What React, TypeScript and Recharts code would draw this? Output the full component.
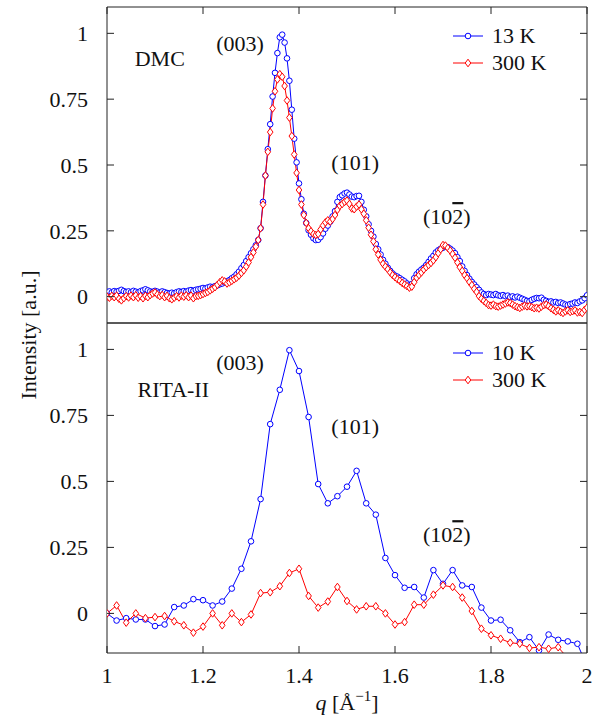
import React from 'react';
import { LineChart, Line, XAxis, YAxis, ReferenceDot, Legend } from 'recharts';

const FONT = '"Liberation Serif", "Times New Roman", serif';
const INK = '#111';
const AXIS = '#222';
const BLUE = '#0000ff';
const RED = '#ff0000';

const qTicks = [1, 1.2, 1.4, 1.6, 1.8, 2];
const yTicks = [0, 0.25, 0.5, 0.75, 1];

// DMC scan, q grid 1.000 .. 2.000 in 0.005 steps
const dmcQ = Array.from({ length: 201 }, (_, i) => Math.round((1 + i * 0.005) * 1000) / 1000);

const dmc13K = [
  0.018, 0.020, 0.016, 0.021, 0.019, 0.022, 0.026, 0.021, 0.018, 0.020,
  0.017, 0.022, 0.019, 0.016, 0.021, 0.024, 0.028, 0.024, 0.020, 0.018,
  0.022, 0.019, 0.016, 0.020, 0.017, 0.014, 0.012, 0.015, 0.013, 0.017,
  0.020, 0.018, 0.021, 0.019, 0.023, 0.025, 0.022, 0.026, 0.028, 0.030,
  0.033, 0.031, 0.035, 0.038, 0.036, 0.040, 0.043, 0.047, 0.050, 0.054,
  0.058, 0.063, 0.070, 0.076, 0.085, 0.095, 0.108, 0.120, 0.135, 0.150,
  0.165, 0.180, 0.195, 0.215, 0.26, 0.36, 0.46, 0.56, 0.655, 0.76,
  0.85, 0.925, 0.985, 0.995, 0.965, 0.905, 0.82, 0.71, 0.60, 0.51,
  0.43, 0.37, 0.315, 0.28, 0.252, 0.235, 0.222, 0.215, 0.216, 0.226,
  0.24, 0.258, 0.270, 0.285, 0.305, 0.325, 0.36, 0.378, 0.385, 0.392,
  0.395, 0.388, 0.38, 0.378, 0.382, 0.383, 0.36, 0.33, 0.305, 0.275,
  0.25, 0.228, 0.2, 0.18, 0.16, 0.14, 0.125, 0.11, 0.098, 0.088,
  0.08, 0.076, 0.07, 0.064, 0.058, 0.05, 0.043, 0.048, 0.07, 0.085,
  0.095, 0.103, 0.11, 0.12, 0.132, 0.145, 0.155, 0.168, 0.176, 0.182,
  0.186, 0.19, 0.188, 0.182, 0.175, 0.165, 0.15, 0.135, 0.115, 0.098,
  0.082, 0.068, 0.056, 0.046, 0.036, 0.026, 0.016, 0.01, 0.006, 0.01,
  0.008, 0.006, 0.01, 0.005, 0.003, 0.006, 0.002, 0.004, -0.002, 0.001,
  -0.003, 0.0, -0.004, -0.008, -0.012, -0.016, -0.018, -0.012, -0.008, -0.005,
  -0.006, -0.004, -0.012, -0.016, -0.02, -0.018, -0.022, -0.02, -0.024, -0.022,
  -0.026, -0.03, -0.032, -0.028, -0.026, -0.022, -0.024, -0.018, -0.014, -0.006,
  0.005,
];

const dmc300K = [
  0.000, -0.004, 0.003, -0.002, 0.004, -0.008, -0.014, -0.006, 0.002, -0.003,
  0.004, -0.002, 0.005, -0.004, 0.002, -0.006, 0.003, -0.002, 0.006, 0.012,
  0.016, 0.008, 0.002, 0.006, -0.002, 0.003, -0.006, -0.01, -0.004, 0.002,
  -0.003, 0.004, 0.0, 0.005, -0.002, 0.004, -0.006, 0.002, 0.003, 0.006,
  0.01, 0.014, 0.018, 0.024, 0.03, 0.036, 0.045, 0.055, 0.062, 0.058,
  0.05, 0.054, 0.06, 0.066, 0.072, 0.08, 0.09, 0.1, 0.114, 0.13,
  0.15, 0.168, 0.19, 0.215, 0.26, 0.35, 0.46, 0.55, 0.625, 0.715,
  0.78, 0.825, 0.845, 0.835, 0.80, 0.745, 0.68, 0.61, 0.54, 0.47,
  0.405, 0.35, 0.31, 0.28, 0.26, 0.248, 0.238, 0.234, 0.238, 0.255,
  0.27, 0.282, 0.29, 0.285, 0.295, 0.31, 0.33, 0.345, 0.352, 0.36,
  0.365, 0.352, 0.335, 0.332, 0.342, 0.35, 0.332, 0.315, 0.29, 0.262,
  0.235, 0.21, 0.18, 0.16, 0.14, 0.125, 0.114, 0.104, 0.092, 0.082,
  0.074, 0.066, 0.06, 0.052, 0.046, 0.04, 0.034, 0.038, 0.055, 0.072,
  0.082, 0.092, 0.103, 0.112, 0.12, 0.128, 0.138, 0.15, 0.165, 0.18,
  0.196, 0.194, 0.185, 0.175, 0.162, 0.148, 0.13, 0.112, 0.098, 0.082,
  0.07, 0.056, 0.044, 0.03, 0.018, 0.002, -0.008, -0.016, -0.024, -0.032,
  -0.034, -0.03, -0.036, -0.038, -0.034, -0.03, -0.026, -0.022, -0.024, -0.03,
  -0.036, -0.04, -0.043, -0.038, -0.034, -0.037, -0.036, -0.04, -0.044, -0.042,
  -0.045, -0.038, -0.032, -0.03, -0.036, -0.044, -0.05, -0.056, -0.052, -0.058,
  -0.062, -0.056, -0.052, -0.058, -0.055, -0.052, -0.06, -0.058, -0.062, -0.05,
  -0.042,
];

// RITA-II scan, 0.02 steps
const ritaQ = [
  1.0, 1.02, 1.04, 1.06, 1.08, 1.1, 1.12, 1.14, 1.16, 1.18,
  1.2, 1.22, 1.24, 1.26, 1.28, 1.3, 1.32, 1.34, 1.36, 1.38,
  1.4, 1.42, 1.44, 1.46, 1.48, 1.5, 1.52, 1.54, 1.56, 1.58,
  1.6, 1.62, 1.64, 1.66, 1.68, 1.7, 1.72, 1.74, 1.76, 1.78,
  1.8, 1.82, 1.84, 1.86, 1.88, 1.9, 1.92, 1.94, 1.96, 1.98,
  2.0,
];

const rita10K = [
  0.0, -0.027, -0.018, -0.023, -0.023, -0.048, -0.042, 0.024, 0.03, 0.054,
  0.05, 0.03, 0.045, 0.094, 0.169, 0.273, 0.433, 0.717, 0.847, 0.997,
  0.918, 0.744, 0.49, 0.417, 0.444, 0.48, 0.54, 0.417, 0.374, 0.21,
  0.145, 0.097, 0.1, 0.06, 0.164, 0.112, 0.164, 0.106, 0.1, 0.022,
  -0.027, -0.024, -0.064, -0.109, -0.09, -0.14, -0.08, -0.1, -0.106, -0.115,
  -0.2,
];

const rita300K = [
  0.0, 0.03, -0.035, 0.0, -0.018, -0.014, -0.01, -0.03, -0.045, -0.073,
  -0.05, 0.0, -0.045, 0.0, -0.033, -0.004, 0.077, 0.08, 0.103, 0.153,
  0.169, 0.066, 0.022, 0.045, 0.1, 0.047, 0.015, 0.027, 0.027, 0.0,
  -0.042, -0.033, 0.033, 0.033, 0.071, 0.106, 0.1, 0.06, 0.009, -0.058,
  -0.083, -0.096, -0.111, -0.115, -0.131, -0.128, -0.134, -0.128, -0.17, -0.2,
  -0.22,
];

const dmcData = dmcQ.map((q, i) => ({ q, low: dmc13K[i], high: dmc300K[i] }));
const ritaData = ritaQ.map((q, i) => ({ q, low: rita10K[i], high: rita300K[i] }));

const Circle = (p: any) => {
  if (p.cx == null || p.cy == null) return <g key={`c-${p.index}`} />;
  return <circle key={`c-${p.index}`} cx={p.cx} cy={p.cy} r={2.8} fill="#fff" stroke={BLUE} strokeWidth={1} />;
};

const diamondPts = (cx: number, cy: number) =>
  `${cx},${cy - 3.8} ${cx + 2.8},${cy} ${cx},${cy + 3.8} ${cx - 2.8},${cy}`;

const Diamond = (p: any) => {
  if (p.cx == null || p.cy == null) return <g key={`d-${p.index}`} />;
  return <polygon key={`d-${p.index}`} points={diamondPts(p.cx, p.cy)} fill="#fff" stroke={RED} strokeWidth={1} />;
};

const QTick = (p: any) => (
  <g>
    <line x1={p.x} x2={p.x} y1={p.y} y2={p.y - 7} stroke={AXIS} />
    <text x={p.x} y={p.y + 30} textAnchor="middle" fontFamily={FONT} fontSize={22} fill={INK}>
      {p.payload.value}
    </text>
  </g>
);

const TopTick = (p: any) => <line x1={p.x} x2={p.x} y1={p.y} y2={p.y + 7} stroke={AXIS} />;

const ValueTick = (p: any) => (
  <g>
    <line x1={p.x} x2={p.x + 7} y1={p.y} y2={p.y} stroke={AXIS} />
    <text x={p.x - 19} y={p.y} dy="0.35em" textAnchor="end" fontFamily={FONT} fontSize={22} fill={INK}>
      {p.payload.value}
    </text>
  </g>
);

const RightTick = (p: any) => <line x1={p.x} x2={p.x - 7} y1={p.y} y2={p.y} stroke={AXIS} />;

const Tag = ({ viewBox, text, bar }: any) => {
  const cx = viewBox.x + (viewBox.width || 0) / 2;
  const cy = viewBox.y + (viewBox.height || 0) / 2;
  return (
    <text x={cx} y={cy} dy="0.35em" textAnchor="middle" fontFamily={FONT} fontSize={22} fill={INK}>
      {text}
      {bar ? <tspan style={{ textDecoration: 'overline' }}>2</tspan> : null}
      {bar ? ')' : null}
    </text>
  );
};

const QLabel = ({ viewBox }: any) => (
  <text x={viewBox.x + viewBox.width / 2} y={viewBox.y + 57} textAnchor="middle" fontFamily={FONT} fontSize={22} fill={INK}>
    <tspan fontStyle="italic">q</tspan>
    <tspan> [Å</tspan>
    <tspan dy={-9} fontSize={15}>−1</tspan>
    <tspan dy={9}>]</tspan>
  </text>
);

const LegendBox = (props: any) => (
  <div style={{ fontFamily: FONT, fontSize: 22, color: INK }}>
    {(props.payload || []).map((e: any) => (
      <div key={e.value} style={{ display: 'flex', alignItems: 'center', height: 27 }}>
        <svg width={30} height={10} style={{ overflow: 'visible' }}>
          <line x1={0} x2={30} y1={5} y2={5} stroke={e.color} />
          {e.dataKey === 'low' ? (
            <circle cx={15} cy={5} r={2.8} fill="#fff" stroke={BLUE} />
          ) : (
            <polygon points={diamondPts(15, 5)} fill="#fff" stroke={RED} />
          )}
        </svg>
        <span style={{ marginLeft: 9, whiteSpace: 'nowrap' }}>{e.value}</span>
      </div>
    ))}
  </div>
);

interface PanelProps {
  data: { q: number; low: number; high: number }[];
  height: number;
  margin: { top: number; right: number; bottom: number; left: number };
  yMin: number;
  lowName: string;
  title: string;
  titleAt: [number, number];
  peaks: { text: string; q: number; v: number; bar?: boolean }[];
  legendTop: number;
  bottom: boolean;
}

// axes need a non-zero size to be drawn, so each takes 1px out of the margin
const Panel = ({ data, height, margin, yMin, lowName, title, titleAt, peaks, legendTop, bottom }: PanelProps) => (
  <LineChart width={599} height={height} data={data} margin={margin}>
    <XAxis
      dataKey="q"
      type="number"
      domain={[1, 2]}
      ticks={qTicks}
      allowDataOverflow
      interval={0}
      height={1}
      tickSize={0}
      tickMargin={0}
      stroke={AXIS}
      tick={bottom ? <QTick /> : false}
      label={bottom ? <QLabel /> : undefined}
    />
    <XAxis
      xAxisId="top"
      orientation="top"
      dataKey="q"
      type="number"
      domain={[1, 2]}
      ticks={qTicks}
      allowDataOverflow
      interval={0}
      height={1}
      tickSize={0}
      tickMargin={0}
      stroke={AXIS}
      tick={bottom ? false : <TopTick />}
    />
    <YAxis
      type="number"
      domain={[yMin, 1.1]}
      ticks={yTicks}
      allowDataOverflow
      interval={0}
      width={1}
      tickSize={0}
      tickMargin={0}
      stroke={AXIS}
      tick={<ValueTick />}
    />
    <YAxis
      yAxisId="right"
      orientation="right"
      type="number"
      domain={[yMin, 1.1]}
      ticks={yTicks}
      allowDataOverflow
      interval={0}
      width={1}
      tickSize={0}
      tickMargin={0}
      stroke={AXIS}
      tick={<RightTick />}
    />
    <Legend
      layout="vertical"
      align="center"
      verticalAlign="middle"
      content={<LegendBox />}
      wrapperStyle={{ left: 453, top: legendTop, width: 'auto' }}
    />
    <Line
      type="linear"
      dataKey="low"
      name={lowName}
      stroke={BLUE}
      strokeWidth={1}
      dot={Circle}
      activeDot={false}
      isAnimationActive={false}
    />
    <Line
      type="linear"
      dataKey="high"
      name="300 K"
      stroke={RED}
      strokeWidth={1}
      dot={Diamond}
      activeDot={false}
      isAnimationActive={false}
    />
    <ReferenceDot x={titleAt[0]} y={titleAt[1]} r={0} stroke="none" label={<Tag text={title} />} />
    {peaks.map((p) => (
      <ReferenceDot key={p.text + p.q} x={p.q} y={p.v} r={0} stroke="none" label={<Tag text={p.text} bar={p.bar} />} />
    ))}
  </LineChart>
);

export default function App() {
  return (
    <div style={{ position: 'absolute', left: 0, top: 0, width: 599, height: 724, background: '#fff' }}>
      <div style={{ position: 'absolute', left: 0, top: 0 }}>
        <Panel
          data={dmcData}
          height={324}
          margin={{ top: 6, right: 11, bottom: 0, left: 106 }}
          yMin={-0.1}
          lowName="13 K"
          title="DMC"
          titleAt={[1.11, 0.906]}
          peaks={[
            { text: '(003)', q: 1.277, v: 0.963 },
            { text: '(101)', q: 1.517, v: 0.51 },
            { text: '(10', q: 1.708, v: 0.305, bar: true },
          ]}
          legendTop={22}
          bottom={false}
        />
      </div>
      <div style={{ position: 'absolute', left: 0, top: 322 }}>
        <Panel
          data={ritaData}
          height={402}
          margin={{ top: 0, right: 11, bottom: 70, left: 106 }}
          yMin={-0.15}
          lowName="10 K"
          title="RITA-II"
          titleAt={[1.138, 0.848]}
          peaks={[
            { text: '(003)', q: 1.277, v: 0.951 },
            { text: '(101)', q: 1.517, v: 0.709 },
            { text: '(10', q: 1.708, v: 0.299, bar: true },
          ]}
          legendTop={17}
          bottom
        />
      </div>
      <svg width={60} height={724} style={{ position: 'absolute', left: 0, top: 0, pointerEvents: 'none' }}>
        <text transform="rotate(-90)" x={-335} y={36} textAnchor="middle" fontFamily={FONT} fontSize={22} fill={INK}>
          Intensity [a.u.]
        </text>
      </svg>
    </div>
  );
}
